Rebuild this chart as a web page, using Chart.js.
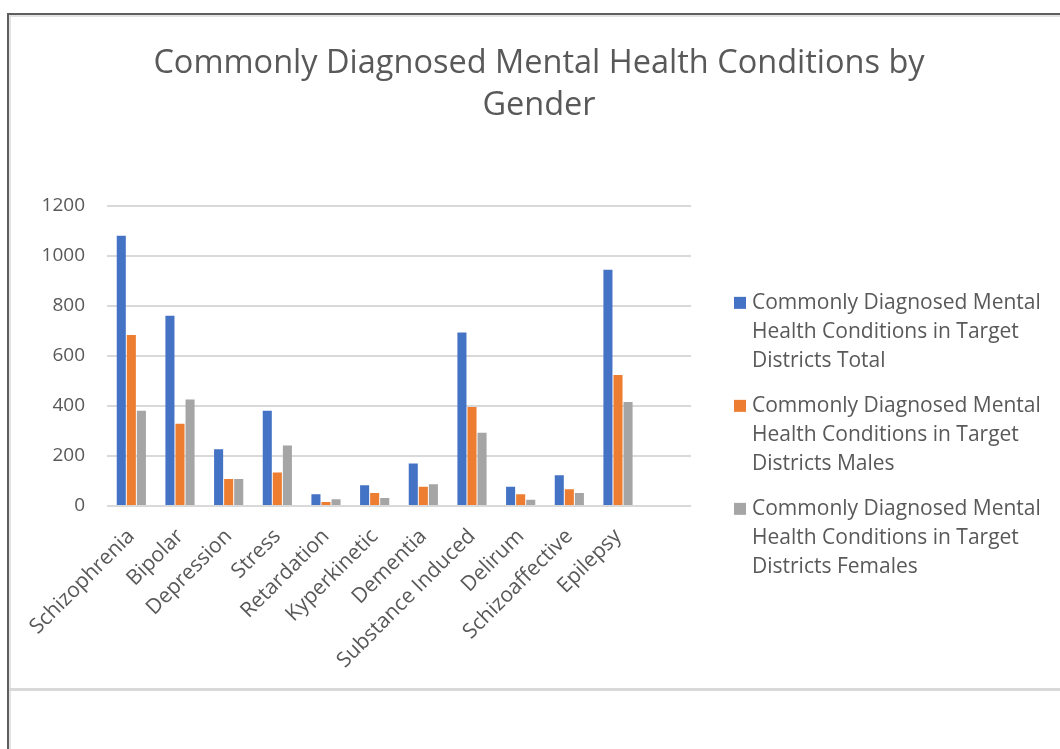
<!DOCTYPE html>
<html>
<head>
<meta charset="utf-8">
<title>Mental Health Conditions by Gender</title>
<script src="https://cdn.jsdelivr.net/npm/chart.js@4/dist/chart.umd.min.js"></script>
<style>
	html,
	body {
		margin: 0;
		padding: 0;
		background: #fff;
		overflow: hidden;
	}
	#frame {
		position: absolute;
		left: 7px;
		top: 13px;
		width: 1060px;
		height: 740px;
		border-left: 2px solid #5f5f5f;
		border-top: 2px solid #5f5f5f;
		box-shadow: inset 2px 2px 0 #e3e3e3;
	}
	#rule {
		position: absolute;
		left: 9px;
		top: 688px;
		width: 1060px;
		height: 3px;
		background: #d9d9d9;
	}
	#wrap {
		position: absolute;
		left: 0;
		top: 0;
		width: 1060px;
		height: 749px;
	}
</style>
</head>
<body>
<div id="frame"></div>
<div id="rule"></div>
<div id="wrap"><canvas id="conditions-chart"></canvas></div>

<script>
// Diagnoses per condition (last slot left empty, as in the source sheet)
const categories = [
	'Schizophrenia',
	'Bipolar',
	'Depression',
	'Stress',
	'Retardation',
	'Kyperkinetic',
	'Dementia',
	'Substance Induced',
	'Delirum',
	'Schizoaffective',
	'Epilepsy',
	'',
];
const totalCases = [1080, 761, 227, 381, 47, 83, 170, 694, 77, 123, 945, null];
const maleCases = [684, 329, 108, 134, 16, 52, 77, 396, 47, 67, 524, null];
const femaleCases = [381, 426, 108, 242, 27, 32, 87, 293, 25, 52, 416, null];

const seriesNames = [
	'Commonly Diagnosed Mental Health Conditions in Target Districts Total',
	'Commonly Diagnosed Mental Health Conditions in Target Districts Males',
	'Commonly Diagnosed Mental Health Conditions in Target Districts Females',
];
const yMax = 1200;
const yStep = 200;

const FONT = '"Open Sans", "Noto Sans", sans-serif';
const TEXT = '#595959';

// split a legend label into lines that fit maxWidth
function wrapText(ctx, text, maxWidth) {
	const words = text.split(' ');
	const lines = [];
	let line = '';
	words.forEach((w) => {
		const test = line ? line + ' ' + w : w;
		if (ctx.measureText(test).width > maxWidth && line) {
			lines.push(line);
			line = w;
		} else {
			line = test;
		}
	});
	if (line) lines.push(line);
	return lines;
}

// legend on the right with wrapped labels
const sideLegend = {
	id: 'sideLegend',
	afterDraw(chart) {
		const ctx = chart.ctx;
		const { right, top } = chart.chartArea;
		ctx.save();
		ctx.font = '21px ' + FONT;
		ctx.textBaseline = 'middle';
		ctx.textAlign = 'left';
		chart.data.datasets.forEach((ds, i) => {
			const lines = wrapText(ctx, ds.label, 300);
			const y = top + 97 + i * 103;
			ctx.fillStyle = ds.backgroundColor;
			ctx.fillRect(right + 43, y - 6, 12, 12);
			ctx.fillStyle = TEXT;
			lines.forEach((ln, j) => ctx.fillText(ln, right + 61, y + j * 29));
		});
		ctx.restore();
	},
};

const conditionsCanvas = document.getElementById('conditions-chart');

const conditionsData = {
	labels: categories,
	datasets: [
		{ label: seriesNames[0], data: totalCases, backgroundColor: '#4472c4' },
		{ label: seriesNames[1], data: maleCases, backgroundColor: '#ed7d31' },
		{ label: seriesNames[2], data: femaleCases, backgroundColor: '#a5a5a5' },
	],
};

const conditionsOptions = {
	responsive: true,
	maintainAspectRatio: false,
	animation: false,
	datasets: {
		bar: {
			categoryPercentage: 0.62,
			barPercentage: 0.9,
		},
	},
	layout: {
		padding: { left: 18, right: 0, top: 13, bottom: 0 },
	},
	scales: {
		x: {
			grid: { display: false },
			border: { display: false },
			ticks: {
				color: TEXT,
				font: { family: FONT, size: 21 },
				minRotation: 45,
				maxRotation: 45,
				autoSkip: false,
				padding: 10,
			},
			afterFit(scale) {
				scale.height = 243;
			},
		},
		y: {
			min: 0,
			max: yMax,
			border: { display: false },
			grid: { color: '#d9d9d9', lineWidth: 2, drawTicks: false },
			ticks: {
				stepSize: yStep,
				color: TEXT,
				font: { family: FONT, size: 19 },
				padding: 22,
				callback: (v) => String(v),
			},
			afterFit(scale) {
				scale.width = 89;
			},
		},
		// empty right-hand axis that keeps room for the legend
		legendSpace: {
			type: 'linear',
			position: 'right',
			display: true,
			grid: { display: false },
			border: { display: false },
			ticks: { display: false },
			afterFit(scale) {
				scale.width = 369;
			},
		},
	},
	plugins: {
		legend: { display: false },
		tooltip: { enabled: false },
		title: {
			display: true,
			text: ['Commonly Diagnosed Mental Health Conditions by', 'Gender'],
			color: TEXT,
			font: { family: FONT, size: 32.5, weight: 'normal', lineHeight: 1.29 },
			padding: { top: 30, bottom: 79 },
		},
	},
};

const conditionsChart = new Chart(conditionsCanvas, {
	type: 'bar',
	data: conditionsData,
	options: conditionsOptions,
	plugins: [sideLegend],
});
</script>
</body>
</html>
